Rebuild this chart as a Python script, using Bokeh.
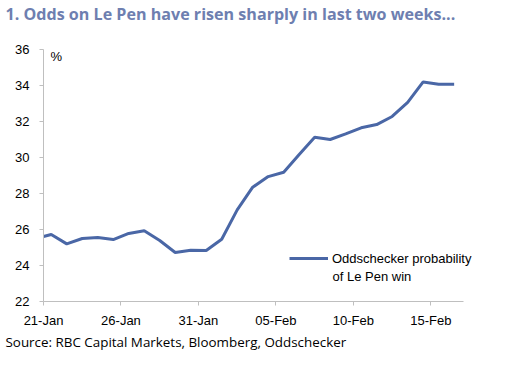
from bokeh.plotting import figure
from bokeh.models import (Range1d, FixedTicker, Label, Legend, LegendItem, Title,
                          ColumnDataSource)
from bokeh.embed import file_html
from bokeh.resources import INLINE

# Data: days since 21-Jan, probability (%)
days = [0, 0.5, 1.5, 2.5, 3.5, 4.5, 5.5, 6.5, 7.5, 8.5, 9.5, 10.5, 11.5, 12.5,
        13.5, 14.5, 15.5, 16.5, 17.5, 18.5, 19.5, 20.5, 21.5, 22.5, 23.5,
        24.5, 25.5, 26.5]
prob = [25.61, 25.72, 25.20, 25.50, 25.55, 25.44, 25.78, 25.93, 25.39, 24.72,
        24.85, 24.83, 25.46, 27.09, 28.35, 28.94, 29.18, 30.17, 31.13, 31.00,
        31.31, 31.65, 31.83, 32.28, 33.06, 34.20, 34.07, 34.07]
tick_days = [0, 5, 10, 15, 20, 25]
tick_labels = ["21-Jan", "26-Jan", "31-Jan", "05-Feb", "10-Feb", "15-Feb"]
y_ticks = [22, 24, 26, 28, 30, 32, 34, 36]
x_axis_end = 27.1

title_text = "1. Odds on Le Pen have risen sharply in last two weeks..."
source_text = "Source: RBC Capital Markets, Bloomberg, Oddschecker"
series_line1 = "Oddschecker probability"
series_line2 = "of Le Pen win"

LINE = "#4A67A6"
AXIS = "#BFBFBF"

p = figure(width=520, height=380, output_backend="svg", toolbar_location=None,
           x_range=Range1d(0, 28.2), y_range=Range1d(22, 36),
           min_border_left=43, min_border_right=40, min_border_top=49,
           min_border_bottom=79)
p.outline_line_color = None
p.grid.visible = False
p.background_fill_color = "white"
p.border_fill_color = "white"

p.title.text = title_text + "\n\u00a0"
p.title.text_font = "Open Sans"
p.title.text_font_style = "bold"
p.title.text_font_size = "16.1px"
p.title.text_color = "#6E7FB0"
p.title.align = "left"
p.title.vertical_align = "top"
p.title.offset = -38
p.title.standoff = 2

src = ColumnDataSource(dict(x=days, y=prob))
r = p.line("x", "y", source=src, line_color=LINE, line_width=3)

for ax in (p.xaxis[0], p.yaxis[0]):
    ax.axis_line_color = AXIS
    ax.major_tick_line_color = AXIS
    ax.minor_tick_line_color = None
    ax.major_tick_in = 0
    ax.major_tick_out = 4
    ax.major_label_text_font = "Liberation Sans"
    ax.major_label_text_font_size = "13px"
    ax.major_label_text_color = "#000000"

p.xaxis.ticker = FixedTicker(ticks=tick_days)
p.xaxis.major_label_overrides = {d: l for d, l in zip(tick_days, tick_labels)}
p.xaxis.major_label_standoff = 7
p.xaxis.bounds = (0, x_axis_end)
p.yaxis.ticker = FixedTicker(ticks=y_ticks)
p.yaxis.major_label_standoff = 10

p.add_layout(Label(x=0.45, y=35.6, text="%", text_font="Liberation Sans",
                   text_font_size="13px", text_baseline="middle", text_color="#000000"))

legend = Legend(items=[LegendItem(label=series_line1, renderers=[r])],
                location=(246, 33), border_line_color=None,
                background_fill_alpha=0, padding=0, margin=0,
                glyph_width=39, label_standoff=4,
                label_text_font="Liberation Sans", label_text_font_size="13px",
                label_text_color="#000000")
p.add_layout(legend)
p.add_layout(Label(x=18.65, y=23.39, text=series_line2, text_font="Liberation Sans",
                   text_font_size="13px", text_baseline="middle",
                   text_color="#000000"))

p.add_layout(Title(text=source_text, text_font="Open Sans", text_font_size="13.4px",
                   text_color="#000000", text_font_style="normal", align="left",
                   offset=-38, standoff=1), "below")

open("out.html", "w").write(file_html(p, INLINE))
